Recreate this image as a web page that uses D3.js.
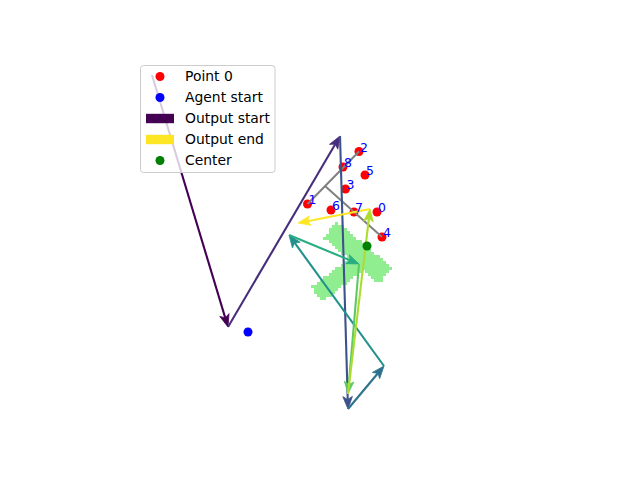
<!DOCTYPE html>
<html><head><meta charset="utf-8">
<script src="https://cdn.jsdelivr.net/npm/d3@7"></script>
<style>body{margin:0;background:#fff}svg{display:block}text{font-family:"DejaVu Sans",sans-serif}</style>
</head><body><svg id="c" width="640" height="480"></svg>
<script>
// Agent output path (data units)
const pathX = [-16.8, -9.2, 2.0, 2.8, 6.4, -3.1, 3.9, 2.8, 5.0, -2.2];
const pathY = [16.5, -8.7, 10.4, -16.9, -12.6, 0.5, -2.4, -15.4, 3.1, 1.7];
// Numbered points
const ptLabels = ["0","1","2","3","4","5","6","7","8"];
const ptX = [5.7, -1.25, 3.9, 2.55, 6.2, 4.5, 1.1, 3.4, 2.3];
const ptY = [2.8, 3.6, 8.85, 5.1, 0.3, 6.5, 3.0, 2.8, 7.3];
// Gray guide lines
const grayX1 = [3.9, 0.5], grayY1 = [8.85, 5.4], grayX2 = [-1.25, 6.2], grayY2 = [3.6, 0.3];
// Agent start & center
const agentStart = [-7.2, -9.2];
const center = [4.7, -0.6];
// Green region bands: start x,y, end x,y, half width
const bandX1 = [1.0, -0.33], bandY1 = [1.02, -5.45], bandX2 = [6.58, 4.0], bandY2 = [-3.58, -2.15], bandHW = [1.05, 0.92];
const cellSize = 0.3;
// Legend
const legendLabels = ["Point 0", "Agent start", "Output start", "Output end", "Center"];

const svg = d3.select("#c");
const x = d3.scaleLinear().domain([-32, 32]).range([0, 640]);
const y = d3.scaleLinear().domain([24, -24]).range([0, 480]);

// green rasterized region
const cells = [];
for (let i = -20; i <= 40; i++) for (let j = -40; j <= 20; j++) {
  const cx = (i + 0.5) * cellSize, cy = (j + 0.5) * cellSize;
  let inside = false;
  for (let b = 0; b < bandX1.length; b++) {
    const dx = bandX2[b] - bandX1[b], dy = bandY2[b] - bandY1[b];
    const L = Math.hypot(dx, dy), ux = dx / L, uy = dy / L;
    const px = cx - bandX1[b], py = cy - bandY1[b];
    const t = px * ux + py * uy, n = -px * uy + py * ux;
    if (t >= 0 && t <= L && Math.abs(n) <= bandHW[b]) inside = true;
  }
  if (inside) cells.push([i * cellSize, j * cellSize]);
}
svg.append("g").selectAll("rect").data(cells).join("rect")
  .attr("x", d => x(d[0])).attr("y", d => y(d[1] + cellSize))
  .attr("width", x(cellSize) - x(0) + 0.3).attr("height", y(0) - y(cellSize) + 0.3)
  .attr("fill", "#90ee90").attr("shape-rendering", "crispEdges");

// red points
svg.append("g").selectAll("circle").data(ptX).join("circle")
  .attr("cx", d => x(d)).attr("cy", (d, i) => y(ptY[i])).attr("r", 4.5).attr("fill", "#ff0000");

// gray lines
svg.append("g").selectAll("line").data(grayX1).join("line")
  .attr("x1", d => x(d)).attr("y1", (d, i) => y(grayY1[i]))
  .attr("x2", (d, i) => x(grayX2[i])).attr("y2", (d, i) => y(grayY2[i]))
  .attr("stroke", "#808080").attr("stroke-width", 2);

// arrows
const nSeg = pathX.length - 1;
const ag = svg.append("g");
for (let i = 0; i < nSeg; i++) {
  const x1 = x(pathX[i]), y1 = y(pathY[i]), x2 = x(pathX[i + 1]), y2 = y(pathY[i + 1]);
  const col = d3.interpolateViridis(i / (nSeg - 1));
  const dx = x2 - x1, dy = y2 - y1, L = Math.hypot(dx, dy), ux = dx / L, uy = dy / L;
  const hl = 12.5, hw = 4.8, notch = 3;
  ag.append("line").attr("x1", x1).attr("y1", y1)
    .attr("x2", x2 - ux * (hl - notch)).attr("y2", y2 - uy * (hl - notch))
    .attr("stroke", col).attr("stroke-width", 2.1);
  const bx = x2 - ux * hl, by = y2 - uy * hl;
  const pts = [[x2, y2], [bx - uy * hw, by + ux * hw], [x2 - ux * (hl - notch), y2 - uy * (hl - notch)], [bx + uy * hw, by - ux * hw]];
  ag.append("polygon").attr("points", pts.map(p => p.join(",")).join(" ")).attr("fill", col).attr("stroke", col).attr("stroke-width", 0.8).attr("stroke-linejoin", "miter");
}

// agent start & center
svg.append("circle").attr("cx", x(agentStart[0])).attr("cy", y(agentStart[1])).attr("r", 4.5).attr("fill", "#0000ff");
svg.append("circle").attr("cx", x(center[0])).attr("cy", y(center[1])).attr("r", 4.5).attr("fill", "#008000");

// labels
svg.append("g").selectAll("text").data(ptLabels).join("text")
  .attr("x", (d, i) => x(ptX[i]) + 1).attr("y", (d, i) => y(ptY[i]))
  .attr("fill", "#0000ff").attr("font-size", "12.5px").text(d => d);

// legend
const lg = svg.append("g");
lg.append("rect").attr("x", 140.5).attr("y", 65.5).attr("width", 134.5).attr("height", 107)
  .attr("rx", 3).attr("fill", "#ffffff").attr("fill-opacity", 0.8).attr("stroke", "#cccccc").attr("stroke-width", 1);
const rowY = i => 76.5 + i * 21;
const mk = [
  g => g.append("circle").attr("cx", 160).attr("r", 4.5).attr("fill", "#ff0000"),
  g => g.append("circle").attr("cx", 160).attr("r", 4.5).attr("fill", "#0000ff"),
  g => g.append("rect").attr("x", 146).attr("y", -4.7).attr("width", 28).attr("height", 9.4).attr("fill", d3.interpolateViridis(0)),
  g => g.append("rect").attr("x", 146).attr("y", -4.7).attr("width", 28).attr("height", 9.4).attr("fill", d3.interpolateViridis(1)),
  g => g.append("circle").attr("cx", 160).attr("r", 4.5).attr("fill", "#008000")
];
legendLabels.forEach((t, i) => {
  const g = lg.append("g").attr("transform", `translate(0,${rowY(i)})`);
  mk[i](g);
  g.append("text").attr("x", 185).attr("y", 4.8).attr("font-size", "13.9px").attr("fill", "#000").text(t);
});
</script></body></html>
